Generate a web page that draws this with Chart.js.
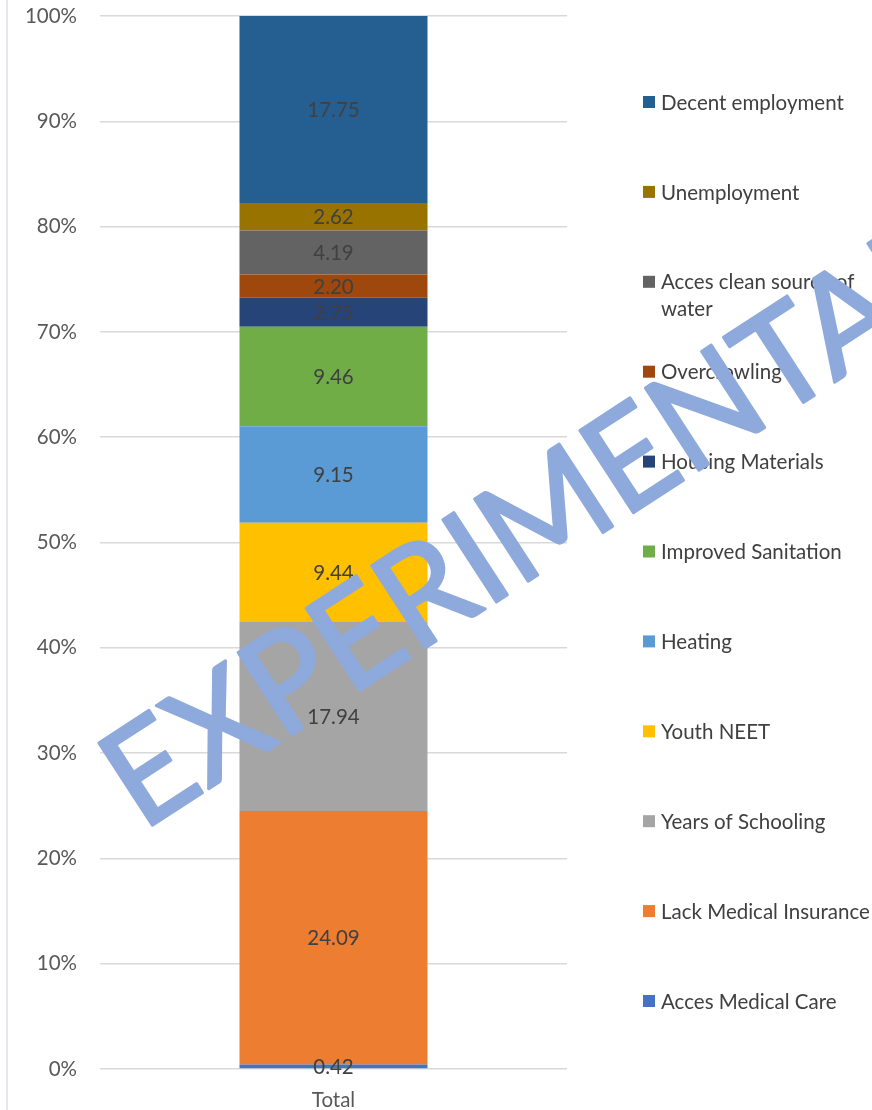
<!DOCTYPE html>
<html>
<head>
<meta charset="utf-8">
<script src="https://cdn.jsdelivr.net/npm/chart.js@4.4.1/dist/chart.umd.min.js"></script>
<style>
    body { margin: 0; background: #fff; overflow: hidden; }
    .chart-container { position: relative; width: 872px; height: 1110px; }
    .edge { position: absolute; left: 6px; top: 0; width: 2px; height: 1110px; background: #e6e6ec; }
</style>
</head>
<body>
<div class="chart-container">
    <div class="edge"></div>
    <canvas id="povertyChart"></canvas>
</div>

<script>
// Categories / series (bottom of the stack first)
const categories = ['Total'];
const seriesNames = [
    'Acces Medical Care',
    'Lack Medical Insurance',
    'Years of Schooling',
    'Youth NEET',
    'Heating',
    'Improved Sanitation',
    'Housing Materials',
    'Overcrowling',
    'Acces clean source of water',
    'Unemployment',
    'Decent employment'
];
const seriesValues = [0.42, 24.09, 17.94, 9.44, 9.15, 9.46, 2.75, 2.20, 4.19, 2.62, 17.75];
const seriesColors = [
    '#4472C4', '#ED7D31', '#A5A5A5', '#FFC000', '#5B9BD5', '#70AD47',
    '#264478', '#9E480E', '#636363', '#997300', '#255E91'
];
const yTickValues = [0, 10, 20, 30, 40, 50, 60, 70, 80, 90, 100];

const FONT = 'Lato, "Open Sans", sans-serif';
const FONT_SIZE = 20.5;
const total = seriesValues.reduce((a, b) => a + b, 0);

// value labels centred on every segment
const segmentLabels = {
    id: 'segmentLabels',
    afterDatasetsDraw(chart) {
        const ctx = chart.ctx;
        ctx.save();
        ctx.font = FONT_SIZE + 'px ' + FONT;
        ctx.fillStyle = '#404040';
        ctx.textAlign = 'center';
        ctx.textBaseline = 'middle';
        chart.data.datasets.forEach((ds, i) => {
            const meta = chart.getDatasetMeta(i);
            meta.data.forEach(bar => {
                const p = bar.getProps(['x', 'y', 'base'], true);
                ctx.fillText(seriesValues[i].toFixed(2), p.x, (p.y + p.base) / 2 + 1);
            });
        });
        ctx.restore();
    }
};

// legend on the right, top item = top of the stack
const sideLegend = {
    id: 'sideLegend',
    afterDraw(chart) {
        const ctx = chart.ctx;
        const boxX = 643, textX = 661, firstY = 102, step = 89.9, maxW = 872 - textX;
        ctx.save();
        ctx.font = FONT_SIZE + 'px ' + FONT;
        ctx.textBaseline = 'middle';
        const n = seriesNames.length;
        for (let k = 0; k < n; k++) {
            const i = n - 1 - k;
            const y = firstY + k * step;
            ctx.fillStyle = seriesColors[i];
            ctx.fillRect(boxX, y - 6, 12, 12);
            // simple word wrap
            const words = seriesNames[i].split(' ');
            const lines = [];
            let line = '';
            words.forEach(w => {
                const test = line ? line + ' ' + w : w;
                if (ctx.measureText(test).width > maxW && line) {
                    lines.push(line);
                    line = w;
                } else {
                    line = test;
                }
            });
            lines.push(line);
            ctx.fillStyle = '#404040';
            lines.forEach((l, j) => ctx.fillText(l, textX, y + 1 + j * 27));
        }
        ctx.restore();
    }
};

// diagonal watermark
const watermark = {
    id: 'watermark',
    afterDraw(chart) {
        const ctx = chart.ctx;
        ctx.save();
        ctx.font = '137px ' + FONT;
        // stretch so the T of the word lands where it does in the original
        const reach = ctx.measureText('EXPERIMEN').width + ctx.measureText('T').width / 2;
        const sx = 795 / reach;
        ctx.translate(142, 832);
        ctx.rotate(-33 * Math.PI / 180);
        ctx.scale(sx, 1);
        ctx.fillStyle = '#8EA9DB';
        ctx.strokeStyle = '#8EA9DB';
        ctx.lineWidth = 3;
        ctx.lineJoin = 'round';
        ctx.textBaseline = 'alphabetic';
        ctx.fillText('EXPERIMENTAL', 0, 0);
        ctx.strokeText('EXPERIMENTAL', 0, 0);
        ctx.restore();
    }
};

const ctx = document.getElementById('povertyChart').getContext('2d');
new Chart(ctx, {
    type: 'bar',
    data: {
        labels: categories,
        datasets: seriesNames.map((name, i) => ({
            label: name,
            data: [seriesValues[i] / total * 100],
            backgroundColor: seriesColors[i],
            borderWidth: 0,
            barPercentage: 0.4026,
            categoryPercentage: 1
        }))
    },
    options: {
        responsive: true,
        maintainAspectRatio: false,
        animation: false,
        layout: { padding: { top: 16, right: 305, bottom: 0, left: 0 } },
        scales: {
            x: {
                stacked: true,
                grid: { display: false, drawTicks: false },
                border: { display: false },
                ticks: { color: '#595959', font: { size: FONT_SIZE, family: FONT }, padding: 19 },
                afterFit(scale) { scale.height = 41; }
            },
            y: {
                stacked: true,
                min: 0,
                max: 100,
                afterBuildTicks(scale) { scale.ticks = yTickValues.map(v => ({ value: v })); },
                grid: { color: '#D9D9D9', lineWidth: 1.5, drawTicks: false },
                border: { display: false },
                ticks: {
                    color: '#595959',
                    font: { size: FONT_SIZE, family: FONT },
                    padding: 23,
                    callback: v => v + '%'
                },
                afterFit(scale) {
                    scale.width = 100;
                    scale.paddingTop = 0;
                    scale.paddingBottom = 0;
                }
            }
        },
        plugins: {
            legend: { display: false },
            tooltip: { enabled: false }
        }
    },
    plugins: [segmentLabels, sideLegend, watermark]
});
</script>
</body>
</html>
